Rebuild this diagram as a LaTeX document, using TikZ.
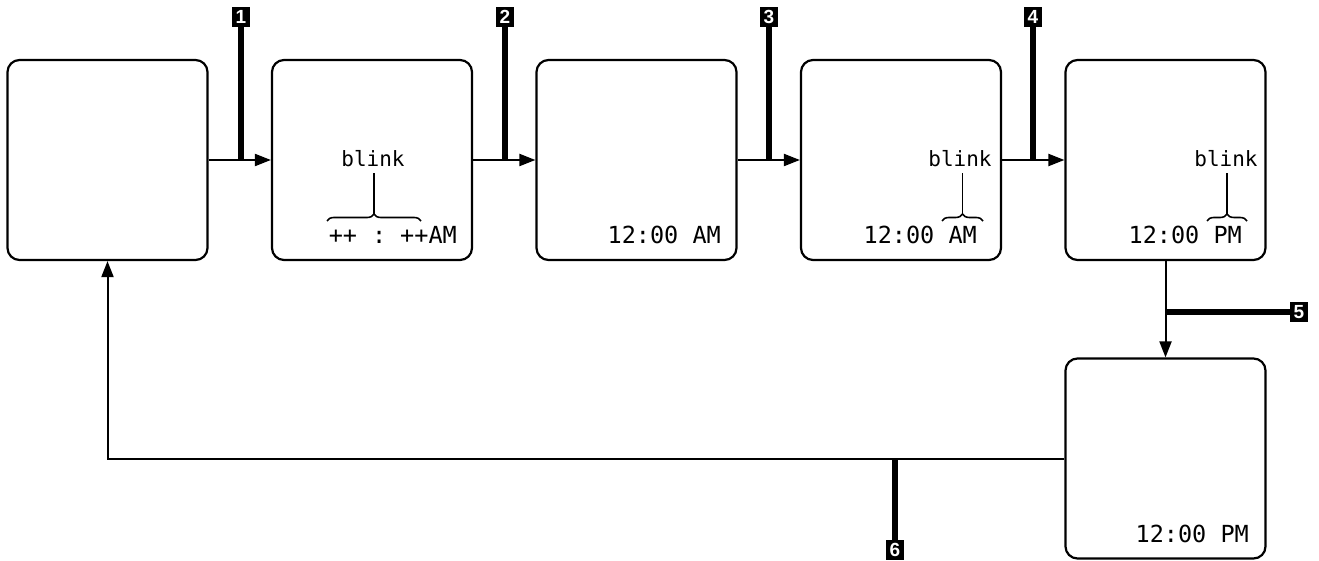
\documentclass[tikz,border=0pt]{standalone}
\usepackage{fontspec}
\setmonofont{DejaVu Sans Mono}
\setsansfont{Liberation Sans}
\usetikzlibrary{arrows.meta}
\usetikzlibrary{decorations.pathreplacing}
\tikzset{
x=1pt, y=-1pt, % one unit is one pixel of the page
>={Triangle[length=16pt, width=12pt]}, % narrow filled arrow heads
node distance=264.5pt, % distance between the centres of two screens
screen/.style={draw, line width=2.2pt, rounded corners=12pt, minimum width=200pt, minimum height=200pt}, % one display state
flow/.style={->, line width=2pt}, % the step from one display to the next
tag/.style={fill=black, text=white, font=\sffamily\bfseries\fontsize{19}{19}\selectfont, inner sep=0pt, minimum width=18pt, minimum height=20pt}, % numbered key
tagline/.style={line width=5.5pt}, % bar from a key to its step
clock/.style={font=\ttfamily\fontsize{23.5}{24}\selectfont, inner sep=0pt, anchor=base east},
blinktext/.style={font=\ttfamily\fontsize{21}{22}\selectfont, inner sep=0pt, anchor=base},
blinkbrace/.style={decorate, decoration={brace, amplitude=7pt}, line width=1.6pt},
stem/.style={line width=1.6pt},
}
\begin{document}
\begin{tikzpicture}
            \useasboundingbox (0,0) rectangle (1319,561);

            \node[screen] (b1) at (107.5,160) {};
            \node[screen, right of=b1] (b2) {};
            \node[screen, right of=b2] (b3) {};
            \node[screen, right of=b3] (b4) {};
            \node[screen, right of=b4] (b5) {};
            \node[screen, below of=b5, node distance=298.5pt] (b6) {};

            % texts on the screens
            \node[clock] (c2) at (457,244) {++\hspace{15pt}:\hspace{14pt}++AM};
            \node[clock] (c3) at (721,244) {12:00 AM};
            \node[clock] (c4) at (977,244) {12:00 AM};
            \node[clock] (c5) at (1242,244) {12:00 PM};
            \node[clock] (c6) at (1249,542) {12:00 PM};

            \node[blinktext] (k2) at (373,167) {blink};
            \node[blinktext] (k4) at (960,167) {blink};
            \node[blinktext] (k5) at (1226,167) {blink};

            \draw[blinkbrace] (327,221) -- (421,221) coordinate[midway] (m2);
            \draw[blinkbrace] (942,221) -- (983,221) coordinate[midway] (m4);
            \draw[blinkbrace] (1207,221) -- (1247,221) coordinate[midway] (m5);
            \draw[stem] ([yshift=7pt]m2) -- ([yshift=-6pt]m2 |- k2.south);
            \draw[stem] ([yshift=7pt]m4) -- ([yshift=-6pt]m4 |- k4.south);
            \draw[stem] ([yshift=7pt]m5) -- ([yshift=-6pt]m5 |- k5.south);

            % steps
            \draw[flow] (b1) -- (b2);
            \draw[flow] (b2) -- (b3);
            \draw[flow] (b3) -- (b4);
            \draw[flow] (b4) -- (b5);
            \draw[flow] (b5) -- (b6);
            \draw[flow] (b6.west) -| (b1.south);

            % keys
            \node[tag] (t1) at (241,17) {1};
            \node[tag] (t2) at (505,17) {2};
            \node[tag] (t3) at (769,17) {3};
            \node[tag] (t4) at (1033,17) {4};
            \node[tag] (t5) at (1299,312) {5};
            \node[tag] (t6) at (895,550) {6};

            \coordinate (j1) at (241,160);
            \coordinate (j2) at (505,160);
            \coordinate (j3) at (769,160);
            \coordinate (j4) at (1033,160);
            \coordinate (j5) at (1166,312);
            \coordinate (j6) at (895,458.5);

            \draw[tagline] (t1) -- (j1);
            \draw[tagline] (t2) -- (j2);
            \draw[tagline] (t3) -- (j3);
            \draw[tagline] (t4) -- (j4);
            \draw[tagline] (t5) -- (j5);
            \draw[tagline] (t6) -- (j6);
        \end{tikzpicture}
\end{document}
